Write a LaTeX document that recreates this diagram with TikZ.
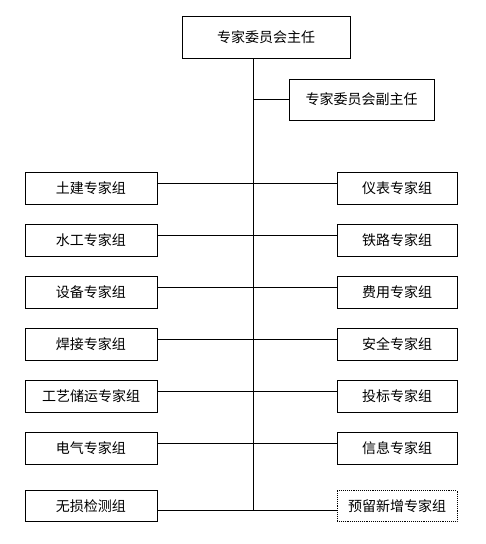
\documentclass[tikz,border=0pt]{standalone}
\usepackage{fontspec}
\setmainfont{Noto Sans CJK SC}
\begin{document}
\begin{tikzpicture}[x=1pt,y=-1pt,
  box/.style={draw,line width=0.9pt,inner sep=0pt,font=\fontsize{14}{15}\selectfont},
  conn/.style={line width=0.9pt}]
\useasboundingbox[fill=white] (0,0) rectangle (486,544);
\node[box,minimum width=168pt,minimum height=42pt] (chief) at (266,37) {专家委员会主任};
\node[box,minimum width=145pt,minimum height=41pt] (deputy) at (361.5,99.5) {专家委员会副主任};
\coordinate (top) at (253,58);
\coordinate (bot) at (253,510);
\draw[conn] (chief.south -| top) -- (bot);
\draw[conn] (253,99.5) -- (deputy.west);
\foreach \i/\yy/\ly/\l/\r in {
  1/188/183/土建专家组/仪表专家组,
  2/240/235/水工专家组/铁路专家组,
  3/292/287/设备专家组/费用专家组,
  4/344/339/焊接专家组/安全专家组,
  5/396/391/工艺储运专家组/投标专家组,
  6/448/443/电气专家组/信息专家组}{
  \node[box,minimum width=132pt,minimum height=32pt] (L\i) at (91,\yy) {\l};
  \node[box,minimum width=120pt,minimum height=32pt] (R\i) at (397,\yy) {\r};
  \draw[conn] (L\i.east |- 0,\ly) -- (R\i.west |- 0,\ly);
}
\node[box,minimum width=132pt,minimum height=31pt] (L7) at (91,506) {无损检测组};
\node[box,densely dotted,minimum width=120pt,minimum height=31pt] (R7) at (397,506) {预留新增专家组};
\draw[conn] (L7.east |- 0,510) -- (R7.west |- 0,510);
\end{tikzpicture}
\end{document}
